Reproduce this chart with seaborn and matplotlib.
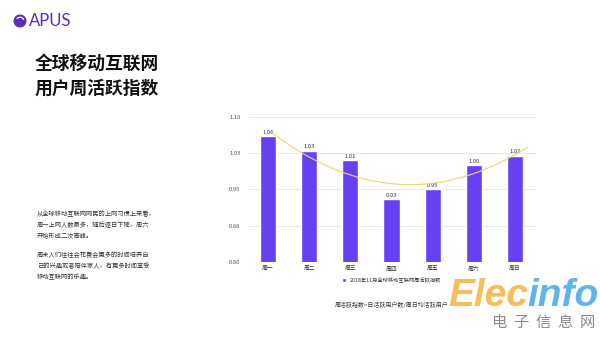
import numpy as np
import pandas as pd
import matplotlib
matplotlib.use("Agg")
import matplotlib.pyplot as plt
import seaborn as sns
from matplotlib.patches import Circle, Arc

days = ["周一", "周二", "周三", "周四", "周五", "周六", "周日"]
index_values = [1.06, 1.03, 1.01, 0.93, 0.95, 1.00, 1.02]
ytick_vals = [0.80, 0.875, 0.95, 1.025, 1.10]
ytick_labels = ["0.80", "0.88", "0.95", "1.03", "1.10"]
legend_label = "2018年11月全球移动互联网周活跃指数"
title_lines = ["全球移动互联网", "用户周活跃指数"]
para1 = ["从全球移动互联网网民的上网习惯上来看，", "周一上网人数最多，随后逐日下降，周六", "开始形成二次高峰。"]
para2 = ["周末人们往往会花费会更多的时间培养自", "己的兴趣或者陪伴家人，有更多时间享受", "移动互联网的乐趣。"]
formula = "周活跃指数=日活跃用户数/周日均活跃用户"

sns.set_theme(style="white")
plt.rcParams["font.family"] = ["Noto Sans CJK SC", "DejaVu Sans"]

BAR = "#6641f4"
fig = plt.figure(figsize=(6.0, 3.37), dpi=100)
fig.patch.set_facecolor("white")
ax = fig.add_axes([0.4125, 0.2226, 0.48, 0.4304])

df = pd.DataFrame({"day": days, "value": index_values})
sns.barplot(data=df, x="day", y="value", color=BAR, width=0.39, ax=ax,
            saturation=1, label=legend_label, zorder=2)
ax.set_ylim(0.80, 1.10)
ax.set_xlim(-0.5, 6.5)
ax.set_yticks(ytick_vals)
ax.set_yticklabels(ytick_labels)
ax.set_xlabel("")
ax.set_ylabel("")
ax.grid(axis="y", color="#e4e4e4", lw=0.6, zorder=0)
ax.set_axisbelow(True)
for s in ax.spines.values():
    s.set_visible(False)
ax.tick_params(axis="y", length=0, pad=5, labelsize=4.2, labelcolor="#555555")
ax.tick_params(axis="x", length=0, pad=3, labelsize=4.2, labelcolor="#333333")
ax.bar_label(ax.containers[0], fmt="%.2f", fontsize=4.2, padding=1, color="#333333")

# polynomial (order 2) trendline fitted to the data
xs = np.arange(len(index_values))
coef = np.polyfit(xs, index_values, 2)
xt = np.linspace(0.1, 6.3, 200)
ax.plot(xt, np.polyval(coef, xt), color="#f2d56e", lw=0.8, zorder=3)

leg = ax.legend(loc="upper center", bbox_to_anchor=(0.5, -0.075), frameon=False,
                fontsize=3.8, handlelength=0.8, handleheight=0.8, handletextpad=0.8)
for t in leg.get_texts():
    t.set_color("#333333")

# formula
fig.text(392 / 600, 1 - 305 / 337, formula, fontsize=4.3, color="#333333",
         ha="center", va="center")

# title
for i, line in enumerate(title_lines):
    fig.text(35 / 600, 1 - (64 + 25 * i) / 337, line, fontsize=12.8,
             fontweight="bold", color="#111111", ha="left", va="center")

# paragraphs
ys1 = [214, 225, 236]
ys2 = [255, 266, 277]
for line, y in zip(para1, ys1):
    fig.text(37 / 600, 1 - y / 337, line, fontsize=4.5, color="#333333", ha="left", va="center")
for line, y in zip(para2, ys2):
    fig.text(37 / 600, 1 - y / 337, line, fontsize=4.5, color="#333333", ha="left", va="center")

# APUS logo
lax = fig.add_axes([0, 0, 1, 1], facecolor="none")
lax.set_xlim(0, 600)
lax.set_ylim(337, 0)
lax.axis("off")
lax.add_patch(Circle((20, 21), 5.8, color="#5a2fb2", zorder=5))
lax.add_patch(Arc((20, 20), 7, 5.5, theta1=200, theta2=360, color="white", lw=0.9, zorder=6))
lax.text(28.5, 21.5, "APUS", fontsize=12, color="#5a2fb2", ha="left", va="center",
         family=["Lato", "DejaVu Sans"])

# watermark
lax.text(528, 296, "Elec", fontsize=28, color="#f7bd5a", fontweight="bold", style="italic",
         family=["Liberation Sans"], ha="right", va="center", zorder=7)
lax.text(527, 296, "info", fontsize=28, color="#5fb5ea", fontweight="bold", style="italic",
         family=["Liberation Sans"], ha="left", va="center", zorder=7)
lax.text(544, 322, "电  子  信  息  网", fontsize=11, color="#8a8a8a",
         ha="center", va="center", zorder=7)

fig.savefig("out.png", dpi=100, facecolor="white")
